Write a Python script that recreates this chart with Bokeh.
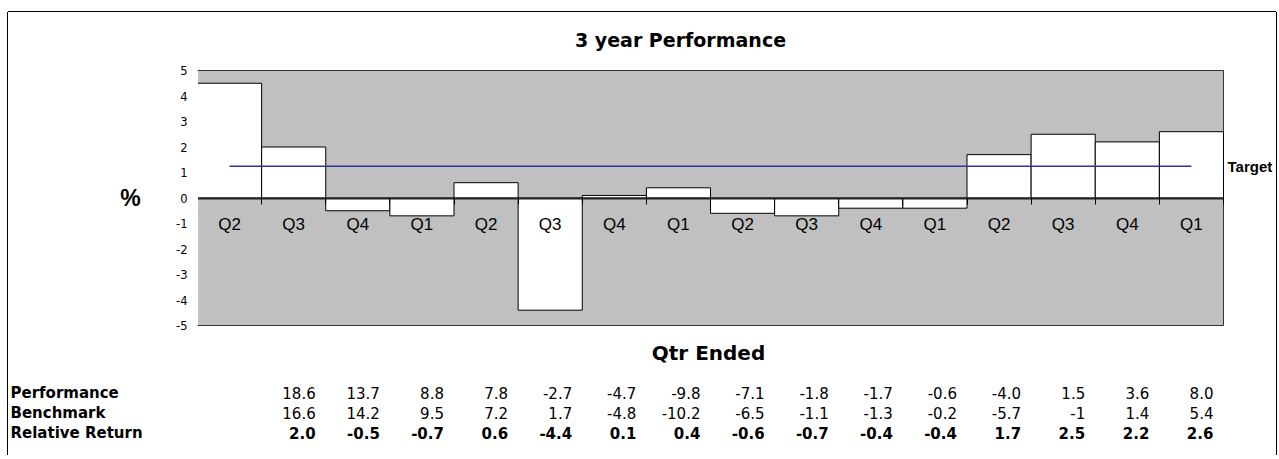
from bokeh.plotting import figure
from bokeh.models import FixedTicker, Range1d
from bokeh.core.properties import value
from bokeh.embed import file_html
from bokeh.resources import INLINE

# ---------------- data ----------------
quarters = ["Q2", "Q3", "Q4", "Q1", "Q2", "Q3", "Q4", "Q1",
            "Q2", "Q3", "Q4", "Q1", "Q2", "Q3", "Q4", "Q1"]
relative_return = [4.5, 2.0, -0.5, -0.7, 0.6, -4.4, 0.1, 0.4,
                   -0.6, -0.7, -0.4, -0.4, 1.7, 2.5, 2.2, 2.6]
performance = [18.6, 13.7, 8.8, 7.8, -2.7, -4.7, -9.8, -7.1,
               -1.8, -1.7, -0.6, -4.0, 1.5, 3.6, 8.0]
benchmark = [16.6, 14.2, 9.5, 7.2, 1.7, -4.8, -10.2, -6.5,
             -1.1, -1.3, -0.2, -5.7, -1, 1.4, 5.4]
y_ticks = [-5, -4, -3, -2, -1, 0, 1, 2, 3, 4, 5]
target = 1.25
row_labels = ["Performance", "Benchmark", "Relative Return"]
title_text = "3 year Performance"
x_title = "Qtr Ended"
y_title = "%"
target_text = "Target"

# ---------------- geometry (canvas pixels) ----------------
W, H = 1268, 443
FL, FT = 189, 58            # plot-area left / top
PW, PH = 1026, 255          # plot-area width / height

n = len(quarters)
positions = list(range(1, n + 1))
x0, x1 = 0.5, n + 0.5
y0, y1 = y_ticks[0], y_ticks[-1]
PX = PW / (x1 - x0)
PY = PH / (y1 - y0)


def dx(cpx):
    return x0 + (cpx - FL) / PX


def dy(cpy):
    return y1 - (cpy - FT) / PY


p = figure(width=W, height=H, output_backend="svg", toolbar_location=None,
           x_range=Range1d(dx(0), dx(W)), y_range=Range1d(dy(H), dy(0)),
           min_border=0, min_border_left=0, min_border_right=0,
           min_border_top=0, min_border_bottom=0,
           background_fill_color="white", border_fill_color="white",
           outline_line_color=None)
p.styles = {"position": "relative", "left": "8px", "top": "12px",
            "box-shadow": "-1px 0 0 0 #000, 1px 0 0 0 #000, 0 -1px 0 0 #000"}
p.grid.visible = False

# plot area
p.quad(left=[x0], right=[x1], bottom=[y0], top=[y1],
       fill_color="#C0C0C0", line_color="#333333", line_width=1)

# bars
p.vbar(x=positions, top=relative_return, bottom=0, width=1.0,
       fill_color="white", line_color="black", line_width=1)

# target
p.line(x=[positions[0], positions[-1]], y=[target, target],
       line_color="#333399", line_width=1.5)

# x axis at zero
xa = p.xaxis[0]
xa.fixed_location = 0
xa.bounds = (x0, x1)
xa.ticker = FixedTicker(ticks=positions, minor_ticks=[v - 0.5 for v in positions] + [x1])
xa.major_label_overrides = {pos: q for pos, q in zip(positions, quarters)}
xa.major_tick_in = 0
xa.major_tick_out = 0
xa.minor_tick_in = 0
xa.minor_tick_out = 6
xa.minor_tick_line_color = "black"
xa.axis_line_color = "#222222"
xa.axis_line_width = 2
xa.major_label_standoff = 11
xa.major_label_text_font = "Liberation Sans"
xa.major_label_text_font_size = "17px"
xa.major_label_text_color = "black"

# y axis at plot-area left edge
ya = p.yaxis[0]
ya.fixed_location = x0
ya.bounds = (y0, y1)
ya.ticker = FixedTicker(ticks=y_ticks)
ya.major_label_overrides = {t: str(t) for t in y_ticks}
ya.major_tick_in = 0
ya.major_tick_out = 0
ya.minor_tick_line_color = None
ya.axis_line_color = "white"
ya.axis_line_width = 1
ya.major_label_standoff = 10
ya.major_label_text_font = "DejaVu Sans"
ya.major_label_text_font_size = "11.5px"
ya.major_label_text_color = "black"

# texts
p.text(x=[dx(672)], y=[dy(27.3)], text=[title_text], text_align="center",
       text_baseline="alphabetic", text_font=value("DejaVu Sans"),
       text_font_style="bold", text_font_size="19px", text_color="black")
p.text(x=[dx(122)], y=[0], text=[y_title], text_align="center",
       text_baseline="middle", text_font=value("Liberation Sans"),
       text_font_style="bold", text_font_size="23px", text_color="black")
p.text(x=[x1], y=[target], x_offset=4, text=[target_text], text_align="left",
       text_baseline="middle", text_font=value("Liberation Sans"),
       text_font_style="bold", text_font_size="15px", text_color="black")
p.text(x=[dx(700)], y=[dy(340)], text=[x_title], text_align="center",
       text_baseline="alphabetic", text_font=value("DejaVu Sans"),
       text_font_style="bold", text_font_size="20px", text_color="black")

# table
row_base = [380, 400, 420]
row_texts = [
    [f"{v:.1f}" for v in performance],
    [f"{v:g}" for v in benchmark],
    [f"{v:.1f}" for v in relative_return[1:]],
]
for i, (lab, texts) in enumerate(zip(row_labels, row_texts)):
    yy = dy(row_base[i])
    p.text(x=[dx(2)], y=[yy], text=[lab], text_align="left",
           text_baseline="alphabetic", text_font=value("DejaVu Sans"),
           text_font_style="bold", text_font_size="15px", text_color="black")
    p.text(x=positions[1:], y=[yy] * len(texts), text=texts, x_offset=22,
           text_align="right", text_baseline="alphabetic",
           text_font=value("DejaVu Sans"),
           text_font_style="bold" if i == 2 else "normal",
           text_font_size="15px", text_color="black")

open("out.html", "w").write(file_html(p, INLINE))
